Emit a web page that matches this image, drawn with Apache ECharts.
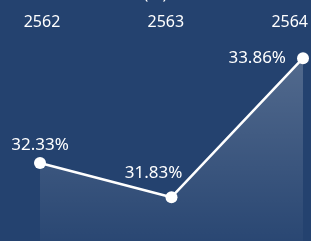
<!DOCTYPE html>
<html>
<head>
<meta charset="utf-8">
<style>
  html, body { margin: 0; padding: 0; background: #24426f; }
  #chart { width: 311px; height: 241px; }
</style>
</head>
<body>
<div id="chart"></div>
<script src="https://cdn.jsdelivr.net/npm/echarts@6/dist/echarts.min.js"></script>
<script>
    var years = ['2562', '2563', '2564'];
    var rates = [32.33, 31.83, 33.86];
    // where each value label sits next to its point
    var labelPos = ['top', 'top', 'left'];
    var labelOffset = [[0, 2], [-18, -5], [-6, 0]];

    var myChart = echarts.init(document.getElementById('chart'));

    var points = rates.map(function (v, i) {
        return {
            value: v,
            label: { position: labelPos[i], offset: labelOffset[i] }
        };
    });

    var option = {
        backgroundColor: '#24426f',
        textStyle: { fontFamily: 'Noto Sans' },
        title: {
            text: '(%)',
            left: 'center',
            top: -19,
            textStyle: { color: '#fff', fontSize: 17, fontWeight: 'normal' }
        },
        grid: [
            { left: 40, right: 8, top: 0, bottom: 0 },
            { left: 42, right: 18, top: 0, bottom: 0 }
        ],
        xAxis: [
            {
                type: 'category',
                gridIndex: 0,
                data: years,
                boundaryGap: false,
                show: false
            },
            {
                type: 'category',
                gridIndex: 1,
                data: years,
                boundaryGap: false,
                position: 'top',
                axisLine: { show: false },
                axisTick: { show: false },
                axisLabel: {
                    inside: true,
                    margin: 14,
                    color: '#fff',
                    fontSize: 16,
                    showMinLabel: true,
                    showMaxLabel: true
                }
            }
        ],
        yAxis: [
            { type: 'value', gridIndex: 0, min: 31.19, max: 34.71, show: false },
            { type: 'value', gridIndex: 1, show: false }
        ],
        series: [
            {
                type: 'line',
                data: points,
                symbol: 'circle',
                symbolSize: 12,
                lineStyle: { color: '#fff', width: 2.5 },
                itemStyle: { color: '#fff' },
                label: {
                    show: true,
                    color: '#fff',
                    fontSize: 17,
                    distance: 5,
                    formatter: function (p) { return p.value.toFixed(2) + '%'; }
                },
                areaStyle: {
                    color: new echarts.graphic.LinearGradient(0, 0, 0, 1, [
                        { offset: 0, color: 'rgba(255,255,255,0.3)' },
                        { offset: 1, color: 'rgba(255,255,255,0.04)' }
                    ])
                }
            }
        ]
    };

    myChart.setOption(option);
</script>
</body>
</html>
